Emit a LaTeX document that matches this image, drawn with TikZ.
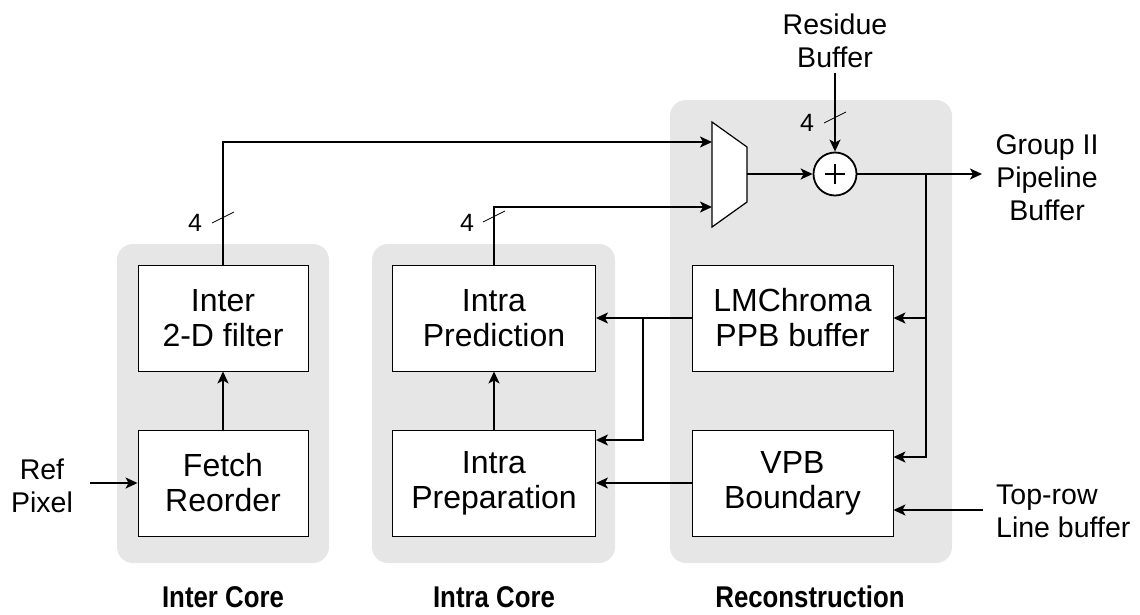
\documentclass[tikz,border=0pt]{standalone}
\usepackage{fontspec}
\setmainfont{Liberation Sans}
\usetikzlibrary{arrows.meta,calc}
\definecolor{panelgray}{HTML}{E6E6E6}
\begin{document}
\begin{tikzpicture}[x=1pt,y=-1pt,
  panel/.style={fill=panelgray,draw=none,rounded corners=16pt},
  blk/.style={draw,fill=white,line width=0.9pt,minimum width=170pt,minimum height=106pt,
    inner sep=0pt,align=center,font=\fontsize{32}{35}\selectfont},
  wide/.style={blk,minimum width=203pt},
  lbl/.style={align=center,font=\fontsize{28.5}{33}\selectfont,inner sep=0pt},
  grouptitle/.style={anchor=base,inner sep=0pt,font=\fontsize{30}{35}\selectfont\bfseries},
  num/.style={inner sep=0pt,font=\fontsize{25}{28}\selectfont},
  wire/.style={line width=1.8pt},
  arr/.style={wire,-{Stealth[length=12pt,width=11pt,inset=3pt]}},
  busmark/.style={line width=0.8pt}]
\useasboundingbox (0,0) rectangle (1140,614);

% grey group panels
\fill[panel] (117,244) rectangle (329,563);
\fill[panel] (372,244) rectangle (615,563);
\fill[panel] (670,100) rectangle (952,563);

% processing blocks
\node[blk]  (ifilt) at (223,318) {Inter\\2-D filter};
\node[blk]  (fetch) at (223,483) {Fetch\\Reorder};
\node[wide] (ipred) at (494,318) {Intra\\Prediction};
\node[wide] (iprep) at (494,483) {Intra\\Preparation};
\node[blk,minimum width=201pt] (lmc) at (792.5,318) {LMChroma\\PPB buffer};
\node[blk,minimum width=201pt] (vpb) at (792.5,483) {VPB\\Boundary};

% multiplexer
\draw[fill=white,line width=1.2pt] (712,122) -- (747,147) -- (747,202) -- (712,227) -- cycle;
\coordinate (mi1) at (712,142);
\coordinate (mi2) at (712,207);
\coordinate (mo)  at (747,174);

% adder
\node[draw,circle,fill=white,line width=1.8pt,minimum size=43pt,inner sep=0pt] (add) at (835,174) {};
\draw[line width=1.2pt] ($(add.center)+(-10,0)$) -- ($(add.center)+(10,0)$)
                        ($(add.center)+(0,-10)$) -- ($(add.center)+(0,10)$);

% external labels
\node[lbl] (res)  at (835,41)  {Residue\\Buffer};
\node[lbl] (grp)  at (1047,178) {Group II\\Pipeline\\Buffer};
\node[lbl,align=left,anchor=west] (top) at (996,511) {Top-row\\Line buffer};
\node[lbl] (ref)  at (42,486) {Ref\\Pixel};

\coordinate (resin) at (835,73);
\coordinate (gout)  at (982,174);
\coordinate (j)     at (926,174);
\coordinate (k)     at (643,318);
\coordinate (topin) at (983,510);
\coordinate (refin) at (90,483);

% connections
\draw[arr] (ifilt.north) |- (mi1);
\draw[arr] (ipred.north) |- (mi2);
\draw[arr] (mo) -- (add.west);
\draw[arr] (resin) -- (add.north);
\draw[arr] (add.east) -- (gout);
\draw[arr] (j) |- (lmc.east);
\draw[arr] (j) |- ([yshift=26pt]vpb.east);
\draw[arr] (topin) -- ([yshift=-27pt]vpb.east);
\draw[arr] (lmc.west) -- (ipred.east);
\draw[arr] (k) |- ([yshift=43pt]iprep.east);
\draw[arr] (vpb.west) -- (iprep.east);
\draw[arr] (fetch.north) -- (ifilt.south);
\draw[arr] (iprep.north) -- (ipred.south);
\draw[arr] (refin) -- (fetch.west);

% bus width marks
\draw[busmark] (212,223) -- (234,212);
\node[num] at (195,223) {4};
\draw[busmark] (483,222) -- (505,211);
\node[num] at (467,223) {4};
\draw[busmark] (824,123) -- (846,112);
\node[num] at (807,123) {4};

% group captions
\node[grouptitle] at (223,607) {\scalebox{0.86}[1]{Inter Core}};
\node[grouptitle] at (494,607) {\scalebox{0.86}[1]{Intra Core}};
\node[grouptitle] at (810,607) {\scalebox{0.86}[1]{Reconstruction}};
\end{tikzpicture}
\end{document}
